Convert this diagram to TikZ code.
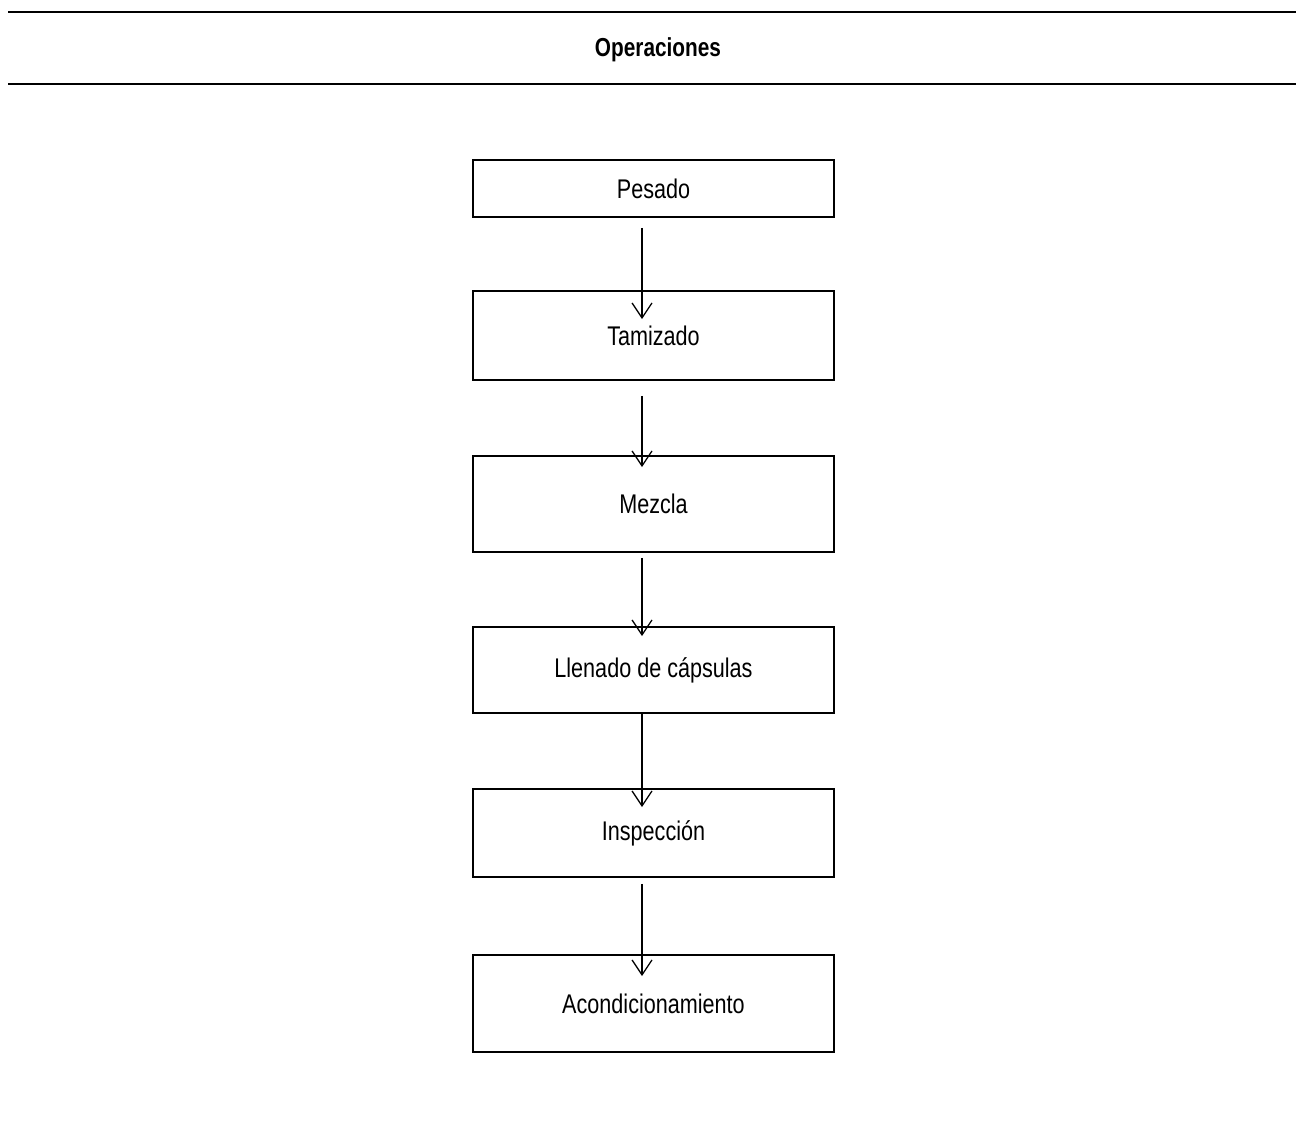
\documentclass[tikz,border=0pt]{standalone}
\usepackage{fontspec}
\setmainfont{Liberation Sans}[FakeStretch=0.8]
\usetikzlibrary{arrows.meta,calc}

\begin{document}
\begin{tikzpicture}
	[
		x = .5pt, y = -.5pt,
		rule/.style = {line width=1pt},
		opbox/.style = {shape=rectangle, draw, line width=.9pt, minimum width=180.5pt, anchor=center, font=\fontsize{13.5}{16}\selectfont},
		flow/.style = {line width=.65pt, -{Straight Barb[length=7.5pt, width=10pt, line width=.65pt]}}
	]

	\useasboundingbox (0, 0) rectangle (1298, 1127);

	% header
	\draw [rule] (8, 12) -- (1296, 12);
	\draw [rule] (8, 84) -- (1296, 84);
	\node [font=\bfseries\fontsize{13}{15}\selectfont] (title) at (658, 50) {Operaciones};

	\def\x{653.5}
	\def\ax{-11.5}

	\newcommand{\opnode}[4]{\node [opbox, minimum height=#3] (#1) at (\x, #2) {#4}; }
	\newcommand{\opflow}[4]{\draw [flow] ($(#1.south) + (\ax, #3)$) -- ($(#2.north) + (\ax, #4)$); }

	\opnode{pes}{188.5}{28.5pt}{Pesado}
	\opnode{tam}{335.5}{44.5pt}{Tamizado}
	\opnode{mez}{504}{48pt}{Mezcla}
	\opnode{lle}{670}{43pt}{Llenado de cápsulas}
	\opnode{ins}{833}{44pt}{Inspección}
	\opnode{aco}{1003.5}{48.5pt}{Acondicionamiento}

	\opflow{pes}{tam}{10}{29}
	\opflow{tam}{mez}{15}{12}
	\opflow{mez}{lle}{5}{10}
	\opflow{lle}{ins}{0}{19}
	\opflow{ins}{aco}{6}{22}
\end{tikzpicture}
\end{document}
